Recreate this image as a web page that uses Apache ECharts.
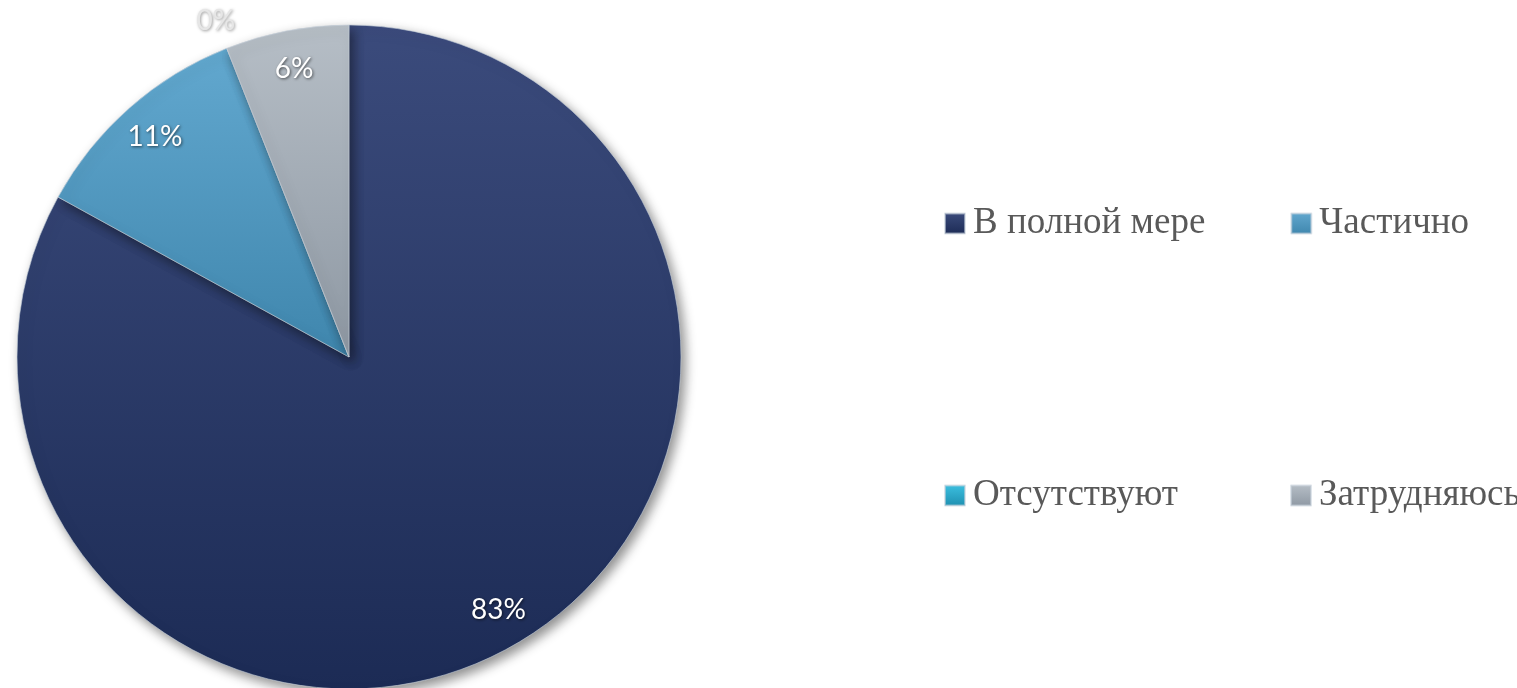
<!DOCTYPE html>
<html>
<head>
<meta charset="utf-8">
<script src="https://cdn.jsdelivr.net/npm/echarts@6/dist/echarts.min.js"></script>
<style>
  html, body { margin: 0; padding: 0; background: #fff; }
  #chart { width: 1517px; height: 688px; }
</style>
</head>
<body>
<div id="chart"></div>
<script>
const categories = ['В полной мере', 'Частично', 'Отсутствуют', 'Затрудняюсь']
const values = [83, 11, 0, 6]
const colors = [
  ['#3b4b7c', '#1c2b55'],
  ['#62a8cf', '#3f86ad'],
  ['#3cc0e0', '#1e8fb0'],
  ['#b6bec6', '#8e98a3']
]

const R = 332
const cx = 349
const cy = 357

const grad = (c) => new echarts.graphic.LinearGradient(0, 0, 0, 1, [
  { offset: 0, color: c[0] },
  { offset: 1, color: c[1] }
])

const chart = echarts.init(document.getElementById('chart'))

const sliceData = categories.map((name, i) => ({
  name,
  value: values[i],
  itemStyle: { color: grad(colors[i]) }
}))

// labels of non-zero slices sit near the rim, the zero one sits just outside
const innerLabels = categories.map((name, i) => ({
  name, value: values[i], label: { show: values[i] !== 0 }
}))
const outerLabels = categories.map((name, i) => ({
  name, value: values[i], label: { show: values[i] === 0 }
}))

const labelBase = {
  position: 'inside',
  formatter: '{c}%',
  fontFamily: 'Lato',
  fontSize: 28,
  color: '#ffffff',
  textShadowColor: 'rgba(0,0,0,0.6)',
  textShadowBlur: 3,
  textShadowOffsetX: 1,
  textShadowOffsetY: 1
}

const legendBase = {
  orient: 'horizontal',
  left: 939,
  width: 800,
  icon: 'rect', itemWidth: 20, itemHeight: 20,
  textStyle: {
    fontFamily: 'Liberation Serif', fontSize: 37, color: '#595959',
    padding: [0, 0, 0, 3]
  },
  selectedMode: false
}

chart.setOption({
  animation: false,
  color: colors.map(c => c[1]),
  legend: [
    Object.assign({}, legendBase, { data: categories.slice(0, 2), top: 200, itemGap: 85 }),
    Object.assign({}, legendBase, { data: categories.slice(2), top: 472, itemGap: 112 })
  ],
  series: [
    {
      type: 'pie',
      center: [cx, cy],
      radius: [0, R],
      startAngle: 90,
      clockwise: true,
      avoidLabelOverlap: false,
      label: { show: false },
      labelLine: { show: false },
      itemStyle: {
        borderColor: 'rgba(200,210,220,0.6)',
        borderWidth: 1,
        shadowBlur: 12,
        shadowOffsetX: 4,
        shadowOffsetY: 5,
        shadowColor: 'rgba(0,0,0,0.45)'
      },
      emphasis: { disabled: true },
      data: sliceData
    },
    {
      type: 'pie',
      center: [cx, cy],
      radius: [R * 0.75, R],
      startAngle: 90,
      clockwise: true,
      avoidLabelOverlap: false,
      silent: true,
      legendHoverLink: false,
      itemStyle: { color: 'rgba(0,0,0,0)' },
      label: labelBase,
      labelLine: { show: false },
      emphasis: { disabled: true },
      data: innerLabels
    },
    {
      type: 'pie',
      center: [cx, cy],
      radius: [R * 1.05, R * 1.11],
      startAngle: 90,
      clockwise: true,
      avoidLabelOverlap: false,
      silent: true,
      legendHoverLink: false,
      itemStyle: { color: 'rgba(0,0,0,0)' },
      label: Object.assign({}, labelBase, {
        color: '#e6e6e6',
        textShadowColor: 'rgba(0,0,0,0.4)'
      }),
      labelLine: { show: false },
      emphasis: { disabled: true },
      data: outerLabels
    }
  ]
})
</script>
</body>
</html>
